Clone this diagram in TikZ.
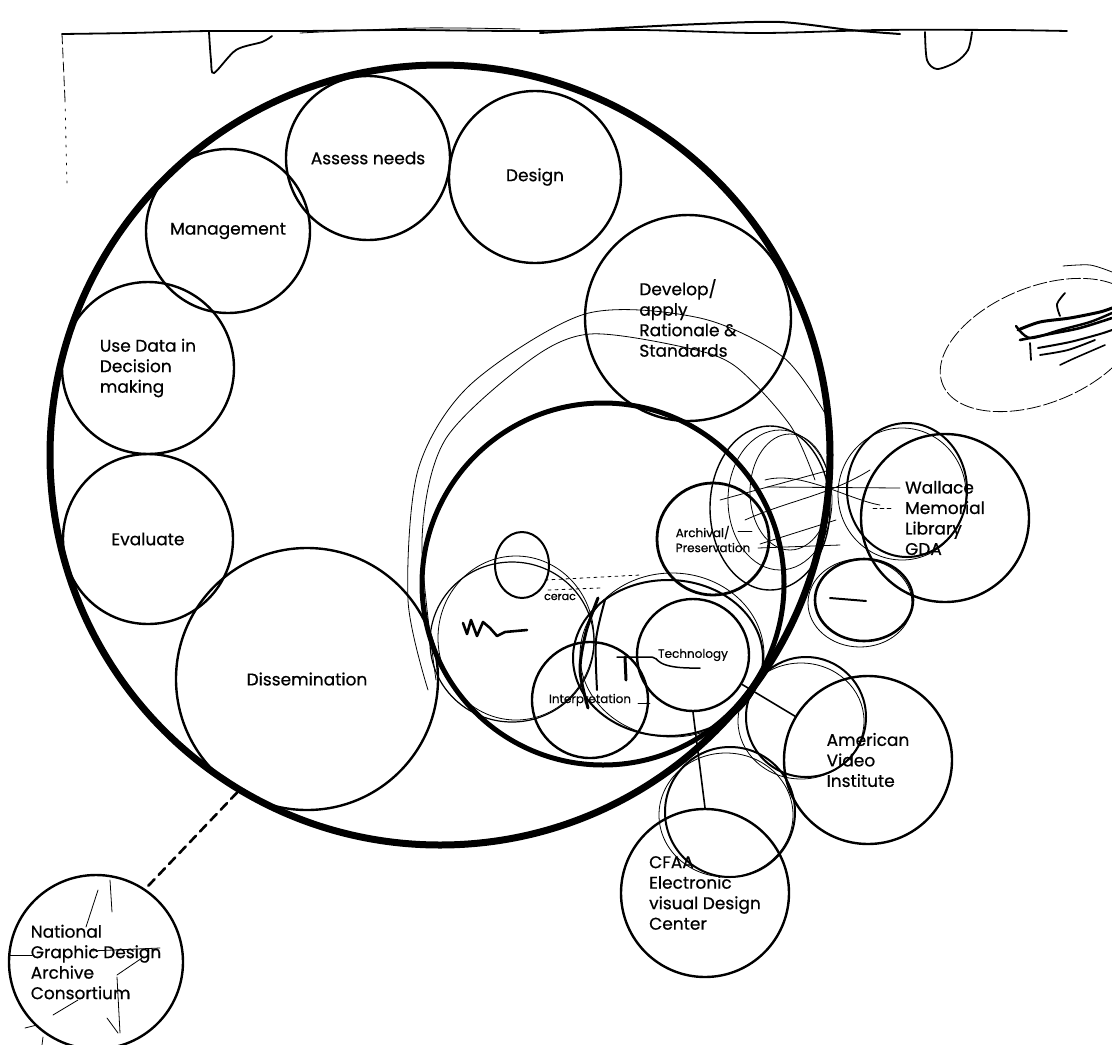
\documentclass[tikz,border=0pt]{standalone}
\usepackage{fontspec}
\setmainfont{Poppins}[FakeBold=0.6]
\begin{document}
\begin{tikzpicture}[x=1pt,y=-1pt,line width=2.4pt,line cap=round,
  bubble/.style={draw,circle,inner sep=0pt,align=left,
    font=\fontsize{17}{20.5}\selectfont},
  minor/.style={bubble,font=\fontsize{12}{15}\selectfont},
  pen/.style={line width=0.8pt},
  ink/.style={line width=2pt}]
  \useasboundingbox (0,0) rectangle (1112,1045);

  % outer ring and inner core
  \node[draw,circle,line width=7pt,minimum size=780pt] (rim) at (440,455) {};
  \node[draw,circle,line width=5pt,minimum size=362pt] (core) at (603,584) {};

  % activities round the ring
  \node[bubble,minimum size=164pt] (assess) at (368,158) {Assess needs};
  \node[bubble,minimum size=172pt] (design) at (535,177) {Design};
  \node[bubble,minimum size=164pt] (mgmt) at (228,231) {Management};
  \node[bubble,minimum size=206pt] (develop) at (688,318) {Develop/\\apply\\Rationale \&\\Standards};
  \node[bubble,minimum size=172pt] (usedata) at (148,368) {Use Data in\\Decision\\making};
  \node[bubble,minimum size=170pt] (evaluate) at (148,539) {Evaluate};
  \node[bubble,minimum size=262pt] (dissem) at (307,679) {Dissemination};

  % inside the core
  \node[minor,line width=2.8pt,minimum size=112pt] (archival) at (713,539) {Archival/\\Preservation};
  \node[minor,minimum size=112pt] (tech) at (693,655) {Technology};
  \node[minor,minimum size=116pt] (interp) at (590,700) {Interpretation};

  % partners outside
  \node[bubble,minimum size=168pt] (wallace) at (945,518) {Wallace\\Memorial\\Library\\GDA};
  \node[bubble,minimum size=168pt] (avi) at (868,760) {American\\Video\\Institute};
  \node[bubble,minimum size=168pt] (cfaa) at (705,893) {CFAA\\Electronic\\visual Design\\Center};
  \node[bubble,minimum size=174pt] (ngda) at (96,962) {National\\Graphic Design\\Archive\\Consortium};

  \draw[line width=1.6pt] (tech.south) -- (cfaa.north);
  \draw[line width=1.6pt] (tech) -- (avi);
  \draw[line width=2.6pt,dash pattern=on 9pt off 6pt] (rim.239) -- (ngda.56);

  % pen marks along the top edge
  \draw[line width=1.8pt] plot[smooth] coordinates {(62,34) (130,33) (209,31) (300,31) (400,30) (520,31) (640,30) (760,33) (880,30) (1000,30) (1067,31)};
  \draw[line width=1.8pt] plot[smooth] coordinates {(209,32) (211,60) (214,73) (236,50) (262,42) (272,36)};
  \draw[line width=1.8pt] plot[smooth] coordinates {(925,32) (927,60) (937,69) (956,62) (968,50) (972,32)};
  \draw[ink] plot[smooth] coordinates {(540,33) (620,28) (700,24) (780,22) (850,30) (900,34)};
  \draw[pen] plot[smooth] coordinates {(300,33) (420,28) (520,29)};
  \draw[pen,dash pattern=on 10pt off 4pt] (62,34) -- (65,100);
  \draw[pen,dash pattern=on 2pt off 7pt] (65,100) -- (67,185);

  % crossed-out bubble on the right
  \draw[pen,dash pattern=on 14pt off 3pt,rotate around={22:(1040,345)}] (1040,345) ellipse (105 and 58);
  \draw[pen] plot[smooth] coordinates {(1063,266) (1090,265) (1112,272)};
  \draw[line width=3pt] plot[smooth] coordinates {(1018,330) (1040,322) (1070,318) (1100,312) (1112,308)};
  \draw[line width=2.6pt] plot[smooth] coordinates {(1020,340) (1050,334) (1080,328) (1112,318)};
  \draw[line width=2.4pt] plot[smooth] coordinates {(1016,326) (1030,338) (1060,330) (1090,322) (1112,313)};
  \draw[line width=2pt] plot[smooth] coordinates {(1038,348) (1070,342) (1100,334) (1112,330)};
  \draw[line width=1.8pt] plot[smooth] coordinates {(1040,355) (1068,350) (1095,340)};
  \draw[line width=1.6pt] plot[smooth] coordinates {(1060,365) (1075,358) (1105,345)};
  \draw[line width=1.8pt] plot[smooth] coordinates {(1065,293) (1057,304) (1060,316)};
  \draw[line width=1.8pt] (1030,343) -- (1031,360);

  % loose loops round the core
  \draw[pen] plot[smooth] coordinates {(428,690) (408,600) (418,470) (470,385) (585,314) (700,318) (783,357) (826,415)};
  \draw[pen] plot[smooth] coordinates {(436,680) (422,540) (445,440) (530,360) (590,334) (683,347) (735,366) (790,425) (815,480)};

  % scribbles in the core
  \draw[ink] (522,565) ellipse (27 and 33);
  \draw[pen] (516,638) ellipse (78 and 82);
  \draw[line width=1.2pt] (512,642) ellipse (82 and 80);
  \draw[ink] (668,658) ellipse (95 and 78);
  \draw[pen] (672,655) ellipse (92 and 82);
  \draw[line width=2.6pt,line join=round] (463,623) -- (467,634) -- (471,620) -- (477,636) -- (483,622) -- (490,628) -- (497,636) -- (505,632) -- (527,630);
  \draw[line width=3pt] plot[smooth] coordinates {(598,598) (586,632) (580,670) (588,708)};
  \draw[ink] plot[smooth] coordinates {(605,600) (596,640) (597,690)};
  \draw[pen,dash pattern=on 3pt off 4pt] (548,590) -- (600,588);
  \draw[pen,dash pattern=on 3pt off 4pt] (545,580) -- (640,575);
  \node[inner sep=0pt,font=\fontsize{11}{12}\selectfont] (gone) at (560,597) {cerac};
  \draw[line width=1.5pt] (617,657) -- (652,657) .. controls (660,657) and (652,669) .. (700,668);
  \draw[line width=3pt] (625,657) -- (626,680);
  \draw[pen] (638,703) -- (650,703);
  \draw[pen] (738,531) -- (752,531);

  % tangle towards the library
  \draw[pen] (758,548) -- (840,545);
  \draw[pen] (760,544) -- (836,520);
  \draw[pen] (720,500) -- (830,470);
  \draw[pen] (767,487) -- (900,488);
  \draw[pen,dash pattern=on 4pt off 3pt] (873,508) -- (893,508);
  \draw[pen] (765,480) .. controls (800,470) and (850,500) .. (880,505);
  \draw[pen] (745,520) .. controls (790,500) and (830,495) .. (870,470);
  \draw[ink] (907,490) ellipse (60 and 67);
  \draw[pen] (902,494) ellipse (64 and 66);
  \draw[line width=1.4pt] (770,508) ellipse (60 and 82);
  \draw[pen] (780,500) ellipse (52 and 70);
  \draw[pen] (790,492) ellipse (40 and 58);
  \draw[line width=2.6pt] (864,600) ellipse (49 and 41);
  \draw[pen] (860,603) ellipse (52 and 44);
  \draw[ink] (830,598) -- (866,601);

  % second rings by the institute and the centre
  \draw[ink] (806,717) circle (60);
  \draw[pen] (801,721) ellipse (63 and 58);
  \draw[ink] (730,812) circle (65);
  \draw[pen] (726,815) ellipse (67 and 62);

  % pen strokes over the consortium
  \draw[pen] (110,880) -- (112,912);
  \draw[pen] (98,890) -- (86,927);
  \draw[pen] (10,955) -- (32,955);
  \draw[pen] (117,975) -- (142,958);
  \draw[pen] (117,977) -- (120,1033);
  \draw[pen] (107,1018) -- (118,1033);
  \draw[pen] (53,1015) -- (78,1000);
  \draw[pen] (25,1028) -- (37,1025);
  \draw[pen] (43,1037) -- (42,1045);
  \draw[pen] (90,951) -- (160,948);
\end{tikzpicture}
\end{document}
